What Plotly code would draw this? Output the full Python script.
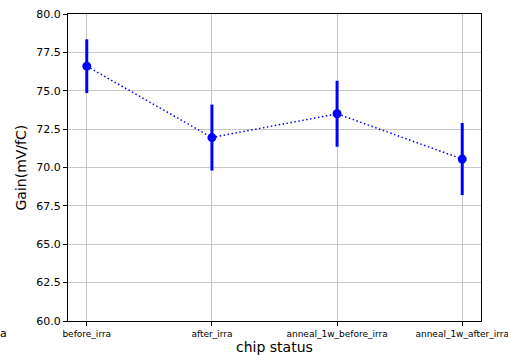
import plotly.graph_objects as go

# chip states and measured gain with uncertainty
status = ["before_irra", "after_irra", "anneal_1w_before_irra", "anneal_1w_after_irra"]
gain = [76.6, 71.95, 73.5, 70.55]
gain_err = [1.75, 2.15, 2.15, 2.35]
y_ticks = [60.0, 62.5, 65.0, 67.5, 70.0, 72.5, 75.0, 77.5, 80.0]

W, H = 508, 355
L, R, T, B = 68, 27, 14, 34

fig = go.Figure()
fig.add_trace(go.Scatter(
    x=list(range(len(status))), y=gain,
    mode="lines+markers",
    line=dict(color="#0000ff", width=1.5, dash="1.5px,2.5px"),
    marker=dict(color="#0000ff", size=9),
    error_y=dict(type="data", array=gain_err, visible=True,
                 color="#0000ff", thickness=3, width=0),
    showlegend=False,
))

axis_common = dict(
    showline=True, linecolor="black", linewidth=1, mirror=True,
    showgrid=True, gridcolor="#c8c8c8", gridwidth=1,
    ticks="outside", ticklen=4, tickcolor="black", zeroline=False,
    automargin=False, ticklabeloverflow="allow",
)
fig.update_xaxes(
    range=[-0.15, 3.15], tickmode="array",
    tickvals=list(range(len(status))), ticktext=status,
    tickfont=dict(family="DejaVu Sans", size=9, color="black"),
    **axis_common,
)
fig.update_yaxes(
    range=[60, 80], tickmode="array", tickvals=y_ticks,
    ticktext=[f"{v:.1f}" for v in y_ticks],
    tickfont=dict(family="DejaVu Sans", size=11, color="black"),
    **axis_common,
)

fig.add_annotation(text="chip status", xref="paper", yref="paper",
                   x=0.5, y=0, yshift=-B - 2, yanchor="bottom", showarrow=False,
                   font=dict(family="DejaVu Sans", size=14, color="black"))
fig.add_annotation(text="Gain(mV/fC)", xref="paper", yref="paper",
                   x=0, xshift=-L + 20, xanchor="center", y=0.5, yanchor="middle",
                   textangle=-90, showarrow=False,
                   font=dict(family="DejaVu Sans", size=14, color="black"))
fig.add_annotation(text="a", xref="paper", yref="paper",
                   x=0, xshift=-L - 2, xanchor="left", y=0, yshift=-12, yanchor="middle",
                   showarrow=False,
                   font=dict(family="DejaVu Sans", size=11, color="black"))

fig.update_layout(
    width=W, height=H,
    margin=dict(l=L, r=R, t=T, b=B),
    paper_bgcolor="white", plot_bgcolor="white",
)
fig.write_html("out.html")
